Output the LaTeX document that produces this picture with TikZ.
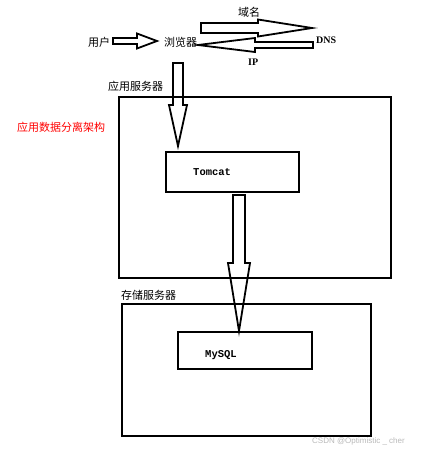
\documentclass[tikz,border=0pt]{standalone}
\usepackage{fontspec}
\setmainfont{Liberation Serif}
\newfontfamily\cjk{Noto Sans CJK SC}
\newfontfamily\monof{Liberation Mono}
\newfontfamily\wmf{Liberation Sans}
\usetikzlibrary{calc}
\newcommand\blockarrow[5]{%
  \path coordinate (hb) at ($(#2)!#5!(#1)$);
  \draw[barrow] ($(#1)!#3!90:(#2)$) -- ($(hb)!#3!90:(#2)$) -- ($(hb)!#4!90:(#2)$) -- (#2)
    -- ($(hb)!#4!-90:(#2)$) -- ($(hb)!#3!-90:(#2)$) -- ($(#1)!#3!-90:(#2)$) -- cycle;}
\begin{document}
\begin{tikzpicture}[x=1pt,y=-1pt,
  box/.style={draw, line width=2pt, inner sep=0pt},
  barrow/.style={draw, line width=1.8pt, line join=miter},
  cjkl/.style={font=\cjk\fontsize{11}{12}\selectfont, inner sep=0pt},
  serl/.style={font=\bfseries\fontsize{10}{12}\selectfont, inner sep=0pt},
  monol/.style={font=\monof\bfseries\fontsize{10.5}{12}\selectfont, inner sep=0pt}]
\useasboundingbox (0,0) rectangle (427,451);
% boxes
\node[box, minimum width=272pt, minimum height=181pt] (app) at (255,187.5) {};
\node[box, minimum width=133pt, minimum height=40pt] (tomcat) at (232.5,172) {};
\node[box, minimum width=249pt, minimum height=132pt] (store) at (246.5,370) {};
\node[box, minimum width=134pt, minimum height=37pt] (mysql) at (245,350.5) {};
% labels
\node[monol, anchor=west] (tomcatl) at (193,172) {Tomcat};
\node[monol, anchor=west] (mysqll) at (205,355) {MySQL};
\node[cjkl, anchor=west] (appl) at (108,86) {应用服务器};
\node[cjkl, anchor=west] (storel) at (121,295) {存储服务器};
\node[cjkl, anchor=west, text=red] (title) at (17,127) {应用数据分离架构};
\node[cjkl, anchor=west] (user) at (88,42) {用户};
\node[cjkl, anchor=west] (browser) at (164,42) {浏览器};
\node[serl, anchor=west] (dns) at (316,40) {DNS};
\node[cjkl, anchor=west] (domain) at (238,12) {域名};
\node[serl, anchor=west] (ip) at (248,62) {IP};
\node[font=\wmf\fontsize{8}{9}\selectfont, text=gray!55, anchor=west, inner sep=0pt] (wm) at (312,441) {CSDN @Optimistic \_ cher};
% arrow end points
\coordinate (a1s) at (113,41);  \coordinate (a1t) at (157,41);
\coordinate (a2s) at (201,28);  \coordinate (a2t) at (312,28);
\coordinate (a3s) at (313,45);  \coordinate (a3t) at (198,45);
\coordinate (a4s) at (178,63);  \coordinate (a4t) at (178,146);
\coordinate (a5s) at (239,195); \coordinate (a5t) at (239,331);
\blockarrow{a1s}{a1t}{3pt}{7.5pt}{20pt}
\blockarrow{a2s}{a2t}{5pt}{8.5pt}{54pt}
\blockarrow{a3s}{a3t}{3pt}{7pt}{57pt}
\blockarrow{a4s}{a4t}{5pt}{9pt}{41pt}
\blockarrow{a5s}{a5t}{6pt}{11pt}{68pt}
\end{tikzpicture}
\end{document}
